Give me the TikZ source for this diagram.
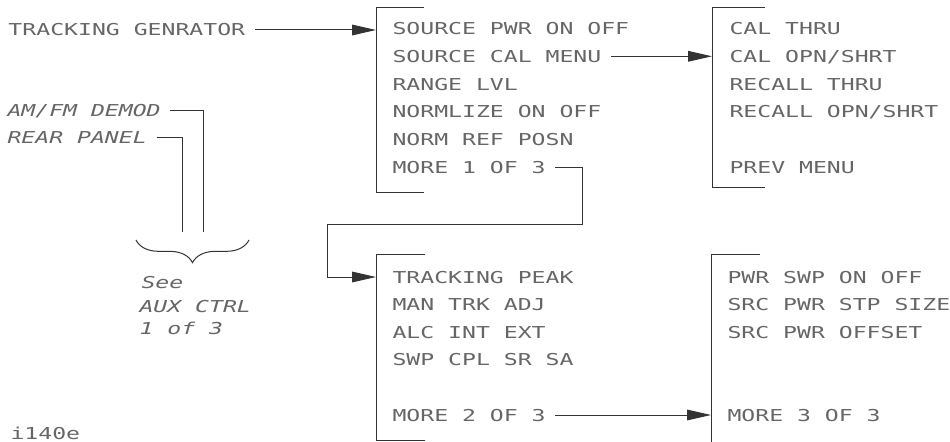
\documentclass[tikz,border=0pt]{standalone}
\usepackage{fontspec}
\newfontfamily\plotfont{DejaVu Sans Mono}[FakeStretch=1.41,ItalicFont={* Oblique}]
\usetikzlibrary{arrows.meta,decorations.pathreplacing}

\tikzset{every picture/.style={line width=0.75pt}}
\tikzset{
  softkey/.style={anchor=base west,inner sep=0pt,text=black!60,text height=9pt,text depth=0pt,
    font=\plotfont\fontsize{12.3pt}{14pt}\selectfont},
  auxkey/.style={softkey,font=\plotfont\itshape\fontsize{12.3pt}{14pt}\selectfont},
  link/.style={draw=black!80,shorten <=7pt},
  menuarrow/.style={link,-{Triangle[length=18pt,width=8pt]}},
  bracketline/.style={draw=black!80}
}

\begin{document}
\begin{tikzpicture}[x=0.75pt,y=0.75pt,yscale=-1,xscale=1]
\useasboundingbox (0,0) rectangle (950,442);

%Bars of the four menus
\coordinate (m1bar) at (376,0);
\coordinate (m2bar) at (712,0);
\coordinate (m3bar) at (376,255);
\coordinate (m4bar) at (711,255);
\draw[bracketline] (424,8) -- (376,8) -- (376,193) -- (424,193);
\draw[bracketline] (765,8) -- (712,8) -- (712,188) -- (765,188);
\draw[bracketline] (425,255) -- (376,255) -- (376,440) -- (425,440);
\draw[bracketline] (760,255) -- (711,255) -- (711,442);

% Text Node
\node[softkey] (trkgen) at (8,36) {TRACKING GENRATOR};
\node[auxkey] (amfm) at (7,117) {AM/FM DEMOD};
\node[auxkey] (rear) at (7,143.5) {REAR PANEL};
\node[auxkey] (see) at (141,288) {See};
\node[auxkey] (auxctrl) at (139,312) {AUX CTRL};
\node[auxkey] (oneof) at (139,334) {1 of 3};
\node[softkey] (fname) at (10,439) {i140e};

% Text Node -- menu 1
\node[softkey] (srcpwr) at (392,34.5) {SOURCE PWR ON OFF};
\node[softkey] (srccal) at (392,62.3) {SOURCE CAL MENU};
\node[softkey] (rnglvl) at (392,90.1) {RANGE LVL};
\node[softkey] (normlz) at (392,117.9) {NORMLIZE ON OFF};
\node[softkey] (normref) at (392,145.7) {NORM REF POSN};
\node[softkey] (more1) at (392,173.5) {MORE 1 OF 3};

% Text Node -- menu 2
\node[softkey] (calthru) at (729,34.5) {CAL THRU};
\node[softkey] (calopn) at (729,62.3) {CAL OPN/SHRT};
\node[softkey] (rclthru) at (729,90.1) {RECALL THRU};
\node[softkey] (rclopn) at (729,117.9) {RECALL OPN/SHRT};
\node[softkey] (prevmenu) at (729,173.5) {PREV MENU};

% Text Node -- menu 3
\node[softkey] (trkpeak) at (392,283) {TRACKING PEAK};
\node[softkey] (mantrk) at (392,310.6) {MAN TRK ADJ};
\node[softkey] (alc) at (392,338.2) {ALC INT EXT};
\node[softkey] (swpcpl) at (392,365.8) {SWP CPL SR SA};
\node[softkey] (more2) at (392,421) {MORE 2 OF 3};

% Text Node -- menu 4
\node[softkey] (pwrswp) at (727,283) {PWR SWP ON OFF};
\node[softkey] (stpsize) at (727,310.6) {SRC PWR STP SIZE};
\node[softkey] (offset) at (727,338.2) {SRC PWR OFFSET};
\node[softkey] (more3) at (727,421) {MORE 3 OF 3};

%Connectors
\coordinate (drop) at (582,225);
\coordinate (jog) at (327,225);
\draw[menuarrow] (trkgen.east) -- (trkgen.east -| m1bar);
\draw[menuarrow] (srccal.east) -- (srccal.east -| m2bar);
\draw[menuarrow] (more1.east) -| (drop) -- (jog) |- (trkpeak.west -| m3bar);
\draw[menuarrow] (more2.east) -- (more2.east -| m4bar);

%Aux keys and brace
\coordinate (amfmdrop) at (203,232);
\coordinate (reardrop) at (182,232);
\coordinate (braceL) at (136,240);
\coordinate (braceR) at (249,240);
\draw[link] (amfm.east) -| (amfmdrop);
\draw[link] (rear.east) -| (reardrop);
\draw[bracketline,decorate,decoration={brace,mirror,amplitude=17pt}] (braceL) -- (braceR);

\end{tikzpicture}
\end{document}
